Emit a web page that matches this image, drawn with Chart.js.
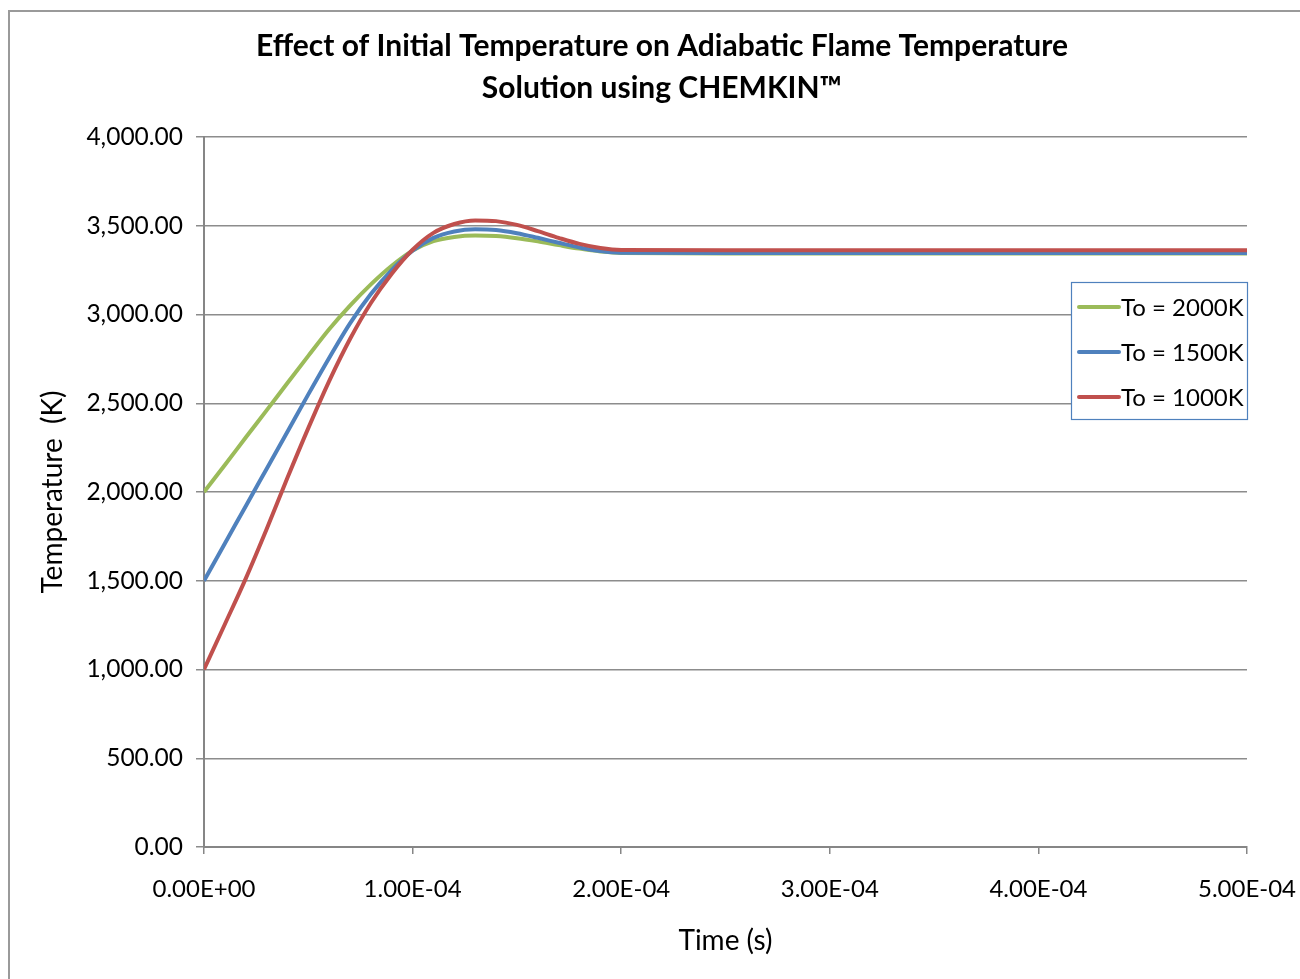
<!DOCTYPE html>
<html>
<head>
<meta charset="utf-8">
<script src="https://cdn.jsdelivr.net/npm/chart.js@4.4.1/dist/chart.umd.min.js"></script>
<style>
html, body { margin: 0; padding: 0; background: #fff; }
</style>
</head>
<body>
<canvas id="myChart" width="1300" height="979"></canvas>
<script>
/*------------------------------------------------------------------------------------------------*/
//datos
const tiempo = [0, 1e-5, 2e-5, 3e-5, 4e-5, 5e-5, 6e-5, 7e-5, 8e-5, 9e-5, 1e-4,
    1.1e-4, 1.2e-4, 1.3e-4, 1.4e-4, 1.5e-4, 1.6e-4, 1.7e-4, 1.8e-4, 1.9e-4, 2e-4,
    2.5e-4, 3e-4, 3.5e-4, 4e-4, 4.5e-4, 5e-4];

const to2000 = [2000, 2152, 2307, 2460, 2614, 2767, 2917, 3050, 3170, 3275, 3360,
    3413, 3437, 3445, 3442, 3430, 3412, 3391, 3371, 3355, 3346,
    3344, 3344, 3344, 3344, 3344, 3344];

const to1500 = [1500, 1710, 1920, 2130, 2340, 2550, 2755, 2950, 3115, 3250, 3360,
    3432, 3468, 3480, 3476, 3458, 3432, 3404, 3377, 3357, 3348,
    3346, 3346, 3346, 3346, 3346, 3346];

const to1000 = [1000, 1255, 1512, 1790, 2080, 2360, 2625, 2862, 3065, 3230, 3365,
    3460, 3510, 3530, 3526, 3505, 3470, 3432, 3398, 3375, 3364,
    3362, 3362, 3362, 3362, 3362, 3362];

const etiquetas = ['To = 2000K', 'To = 1500K', 'To = 1000K'];
const colores = ['#9bbb59', '#4f81bd', '#c0504d'];

const yTicks = [0, 500, 1000, 1500, 2000, 2500, 3000, 3500, 4000];
const xTicks = [0, 1e-4, 2e-4, 3e-4, 4e-4, 5e-4];

const fuente = 'Lato, "Open Sans", sans-serif';

/*------------------------------------------------------------------------------------------------*/
//puntos
const puntos = (serie) => tiempo.map((t, i) => ({ x: t, y: serie[i] }));

const formatoSci = (v) => {
    const partes = Number(v).toExponential(2).split('e');
    const exp = parseInt(partes[1], 10);
    const signo = exp < 0 ? '-' : '+';
    return partes[0] + 'E' + signo + String(Math.abs(exp)).padStart(2, '0');
};

/*------------------------------------------------------------------------------------------------*/
//borde y leyenda
const borde = {
    id: 'borde',
    afterDraw(chart) {
        const ctx = chart.ctx;
        ctx.save();
        ctx.strokeStyle = '#9a9a9a';
        ctx.lineWidth = 2;
        ctx.strokeRect(9, 11, 1400, 1100);
        ctx.restore();
    }
};

const leyenda = {
    id: 'leyenda',
    afterDraw(chart) {
        const ctx = chart.ctx;
        const right = chart.chartArea.right;
        const bx = right - 176, by = 282, bw = 176, bh = 137;
        ctx.save();
        ctx.fillStyle = '#ffffff';
        ctx.fillRect(bx, by, bw, bh);
        ctx.strokeStyle = '#4f81bd';
        ctx.lineWidth = 1.2;
        ctx.strokeRect(bx + 0.5, by + 0.5, bw, bh);
        ctx.font = '24px ' + fuente;
        ctx.textBaseline = 'middle';
        ctx.textAlign = 'left';
        for (let i = 0; i < etiquetas.length; i++) {
            const y = by + 25 + i * 45;
            ctx.strokeStyle = colores[i];
            ctx.lineWidth = 4;
            ctx.lineCap = 'round';
            ctx.beginPath();
            ctx.moveTo(bx + 8, y);
            ctx.lineTo(bx + 48, y);
            ctx.stroke();
            ctx.fillStyle = '#000';
            ctx.fillText(etiquetas[i], bx + 50, y + 1);
        }
        ctx.restore();
    }
};

/*------------------------------------------------------------------------------------------------*/
//grafico
const series = [to2000, to1500, to1000];
const ordenDibujo = [2, 1, 0];

var ctx = document.getElementById('myChart');
var myChart = new Chart(ctx, {
    type: 'line',
    data: {
        datasets: series.map((s, i) => ({
            label: etiquetas[i],
            data: puntos(s),
            borderColor: colores[i],
            backgroundColor: colores[i],
            borderWidth: 4,
            pointRadius: 0,
            cubicInterpolationMode: 'monotone',
            order: ordenDibujo[i]
        }))
    },
    options: {
        responsive: false,
        animation: false,
        layout: { padding: { top: 25, left: 24, right: 0, bottom: 0 } },
        plugins: {
            legend: { display: false },
            tooltip: { enabled: false },
            title: {
                display: true,
                text: ['Effect of Initial Temperature on Adiabatic Flame Temperature', 'Solution using CHEMKIN\u2122'],
                color: '#000',
                font: { family: fuente, size: 30, weight: 'bold', lineHeight: 1.4 },
                padding: { top: 0, bottom: 28 }
            }
        },
        scales: {
            x: {
                type: 'linear',
                min: 0,
                max: 5e-4,
                afterBuildTicks: (scale) => { scale.ticks = xTicks.map(v => ({ value: v })); },
                afterFit: (scale) => { scale.height = 132; scale.paddingRight = 53; },
                ticks: {
                    callback: (v) => formatoSci(v),
                    color: '#000',
                    font: { family: fuente, size: 24 },
                    padding: 21,
                    maxRotation: 0,
                    autoSkip: false
                },
                grid: { drawOnChartArea: false, drawTicks: true, tickLength: 7, color: '#868686', lineWidth: 1.5 },
                border: { display: true, color: '#868686', width: 2 },
                title: {
                    display: true,
                    text: 'Time (s)',
                    color: '#000',
                    font: { family: fuente, size: 28 },
                    padding: { top: 0, bottom: 21 }
                }
            },
            y: {
                min: 0,
                max: 4000,
                afterBuildTicks: (scale) => { scale.ticks = yTicks.map(v => ({ value: v })); },
                afterFit: (scale) => { scale.width = 180; },
                ticks: {
                    callback: (v) => Number(v).toLocaleString('en-US', { minimumFractionDigits: 2, maximumFractionDigits: 2 }),
                    color: '#000',
                    font: { family: fuente, size: 24.5 },
                    padding: 13
                },
                grid: { color: '#8c8c8c', lineWidth: 1.5, drawTicks: true, tickLength: 8 },
                border: { display: true, color: '#868686', width: 2 },
                title: {
                    display: true,
                    text: 'Temperature  (K)',
                    color: '#000',
                    font: { family: fuente, size: 28 },
                    padding: { top: 12, bottom: 0 }
                }
            }
        }
    },
    plugins: [borde, leyenda]
});
</script>
</body>
</html>
